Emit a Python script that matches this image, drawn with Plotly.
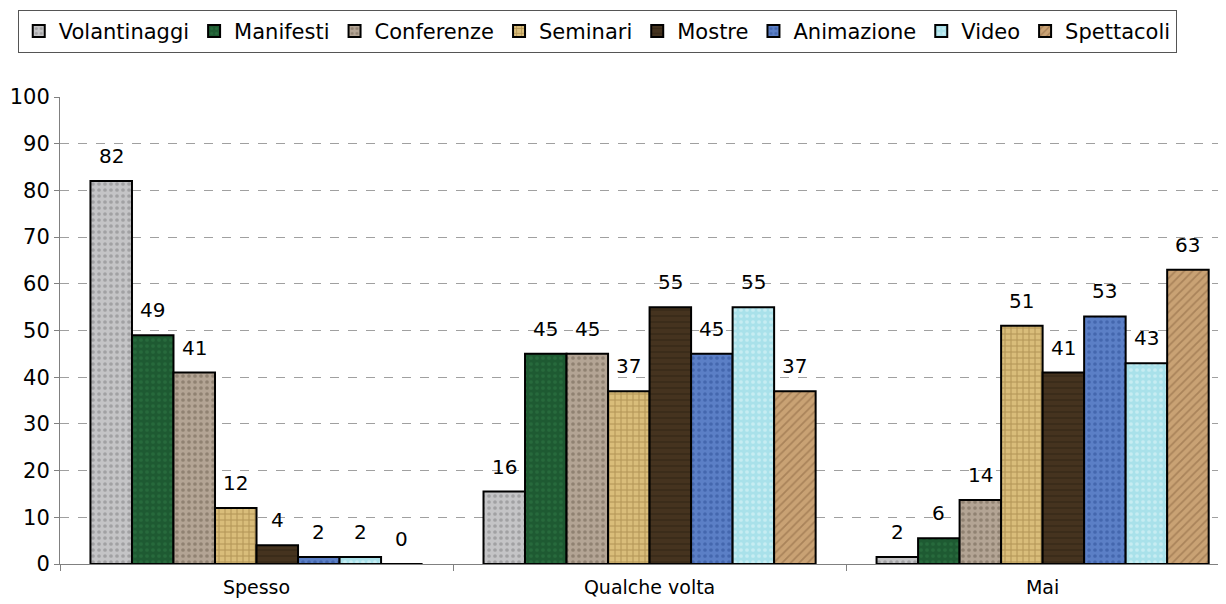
import plotly.graph_objects as go

# categories on the x axis
categorie = ["Spesso", "Qualche volta", "Mai"]

# series (percent values as drawn; labels are rounded)
serie = ["Volantinaggi", "Manifesti", "Conferenze", "Seminari",
         "Mostre", "Animazione", "Video", "Spettacoli"]
volantinaggi = [82, 15.5, 1.5]
manifesti = [49, 45, 5.5]
conferenze = [41, 45, 13.7]
seminari = [12, 37, 51]
mostre = [4, 55, 41]
animazione = [1.5, 45, 53]
video = [1.5, 55, 43]
spettacoli = [0, 37, 63]

valori = [volantinaggi, manifesti, conferenze, seminari, mostre, animazione, video, spettacoli]

# colours and a pattern to hint at the textured fills of the original
colori = ["#c4c4c6", "#1e5a32", "#b3a494", "#d9bd7a", "#45331f", "#5b7fc6", "#a9e1ea", "#c9a274"]
trame = [".", ".", ".", "+", "-", ".", ".", "/"]
colori_trama = ["#7d7d80", "#2f7a46", "#6e6050", "#8a6a30", "#2e2214", "#2e4f95", "#e6f7fa", "#8a6440"]

FONT = "DejaVu Sans"
bargap = 0.155

fig = go.Figure()
for nome, v, c, t, tc in zip(serie, valori, colori, trame, colori_trama):
    fig.add_trace(go.Bar(
        name=nome, x=categorie, y=v,
        marker=dict(color=c, line=dict(color="black", width=2),
                    pattern=dict(shape=t, fgcolor=tc, bgcolor=c, size=6, solidity=0.3)),
    ))

# value labels above each bar
n = len(serie)
w = (1 - bargap) / n
for j, v in enumerate(valori):
    for i, val in enumerate(v):
        fig.add_annotation(
            x=i + (j - (n - 1) / 2) * w, y=val, xref="x", yref="y",
            text=f"{val:.0f}", showarrow=False, yanchor="bottom", yshift=11,
            font=dict(family=FONT, size=20, color="black"),
        )

# page has an 8px body margin, so the figure is a bit smaller than the window
fig.update_layout(
    width=1218, height=596,
    paper_bgcolor="white", plot_bgcolor="white",
    margin=dict(l=52, r=1, t=89, b=40),
    barmode="group", bargap=bargap, bargroupgap=0,
    font=dict(family=FONT, size=18, color="black"),
    legend=dict(
        orientation="h", xref="container", yref="container",
        x=0.008, y=0.997, xanchor="left", yanchor="top",
        bordercolor="#555555", borderwidth=1,
        font=dict(family=FONT, size=21, color="black"),
        itemwidth=30, tracegroupgap=0,
    ),
    xaxis=dict(
        range=[-0.5, 2.464], showline=True, linecolor="#808080", linewidth=1,
        ticks="outside", tickson="boundaries", ticklen=6, tickcolor="#808080",
        tickfont=dict(family=FONT, size=19), ticklabelstandoff=6,
    ),
    yaxis=dict(
        range=[0, 100], dtick=10, showline=True, linecolor="#808080", linewidth=1,
        ticks="outside", ticklen=5, tickcolor="#808080",
        showgrid=True, gridcolor="#a0a0a0", griddash="dash", gridwidth=1,
        zeroline=False, tickfont=dict(family=FONT, size=21),
    ),
)

fig.write_html("out.html")
